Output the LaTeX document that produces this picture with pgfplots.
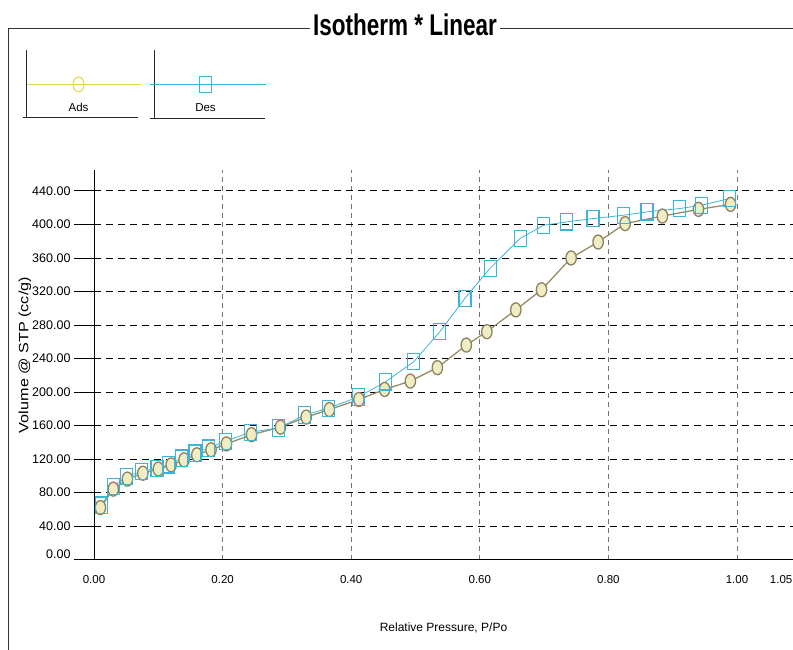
\documentclass[border=0pt]{standalone}
\usepackage{fontspec}
\setmainfont{Liberation Sans}
\usepackage{pgfplots}
\pgfplotsset{compat=1.18}
\definecolor{adsline}{RGB}{150,140,100}
\definecolor{adsdraw}{RGB}{140,130,95}
\definecolor{adsfill}{RGB}{240,236,195}
\definecolor{adsleg}{RGB}{225,215,70}
\definecolor{descol}{RGB}{60,180,215}
\begin{document}
\begin{tikzpicture}
\useasboundingbox (0,0) rectangle (793pt,-650pt);
\draw[line width=0.8pt, black!80] (8pt,-650pt) -- (8pt,-28pt) -- (310pt,-28pt);
\draw[line width=0.8pt, black!80] (500pt,-28pt) -- (793pt,-28pt);
\node[font=\fontsize{30}{34}\selectfont\bfseries, xscale=0.75] at (405pt,-25pt) {Isotherm * Linear};
\begin{axis}[
  at={(94pt,-559.5pt)}, anchor=south west,
  scale only axis, width=699pt, height=389.5pt,
  xmin=0, xmax=1.0871, ymin=0, ymax=465,
  axis x line=bottom, axis y line=left,
  x axis line style={-, black, line width=1.4pt},
  y axis line style={-, black, line width=0.9pt},
  /pgf/number format/assume math mode=true,
  xticklabel style={font=\fontsize{11.5}{13}\selectfont, yshift=8pt},
  yticklabel style={font=\fontsize{12.5}{14}\selectfont},
  tick align=outside, major tick length=20pt,
  xtick style={draw=none},
  ytick style={black, line width=0.9pt},
  xtick={0,0.2,0.4,0.6,0.8,1.0},
  xticklabels={0.00,0.20,0.40,0.60,0.80,1.00},
  extra x ticks={1.05},
  extra x tick labels={1.05},
  extra x tick style={grid=none, xticklabel style={xshift=12pt}},
  ytick={0,40,80,120,160,200,240,280,320,360,400,440},
  yticklabels={\raisebox{11pt}{0.00},40.00,80.00,120.00,160.00,200.00,240.00,280.00,320.00,360.00,400.00,440.00},
  grid=major,
  major x grid style={black!55, dash pattern=on 5pt off 4pt, line width=0.7pt},
  major y grid style={black, dash pattern=on 7pt off 5pt, line width=0.9pt},
  ylabel={Volume @ STP (cc/g)},
  ylabel style={at={(axis description cs:-0.099,0.525)}, anchor=center, font=\fontsize{13.5}{15}\selectfont, xscale=1.2},
  xlabel={Relative Pressure, P/Po},
  xlabel style={at={(axis description cs:0.5,-0.176)}, anchor=center, font=\fontsize{12}{14}\selectfont},
  legend columns=2,
  legend style={at={(-0.103,1.308)}, anchor=north west, draw=none, fill=none,
    inner sep=0pt, outer sep=0pt, nodes={inner sep=0pt, outer sep=0pt},
    /tikz/column sep=0pt, /tikz/every even column/.append style={column sep=7pt}},
]
\addplot[adsline, line width=1.3pt, mark=*, mark size=5.2pt,
  mark options={draw=adsdraw, fill=adsfill, line width=1.3pt, yscale=1.35},
  legend image code/.code={
    \draw[black!85, line width=0.8pt] (0pt,34pt) -- (0pt,-34pt);
    \draw[black!85, line width=1pt] (-4pt,-33pt) -- (111pt,-33pt);
    \draw[adsleg, line width=1pt] (0pt,0pt) -- (114pt,0pt);
    \draw[adsleg, line width=1pt, mark=o, mark size=5.5pt, mark options={yscale=1.35}] plot coordinates {(52pt,0pt)};
    \node[font=\fontsize{11.5}{13}\selectfont, black] at (52pt,-24pt) {Ads};
  }] coordinates {
(0.010,62) (0.030,84) (0.052,96) (0.076,103) (0.100,108) (0.120,113) (0.140,119)
(0.160,125) (0.182,131) (0.206,138) (0.245,149) (0.290,158) (0.330,170) (0.366,179)
(0.412,191) (0.452,203) (0.492,213) (0.534,229) (0.579,256) (0.611,272) (0.656,298)
(0.696,322) (0.742,360) (0.784,379) (0.826,401) (0.884,410) (0.940,418) (0.990,424)
};
\addlegendentry{\mbox{}}
\addplot[descol, line width=0.8pt, mark=square, mark size=6pt,
  mark options={draw=descol, solid, line width=1.1pt, yscale=1.35},
  legend image code/.code={
    \draw[black!85, line width=0.8pt] (0pt,34pt) -- (0pt,-34pt);
    \draw[black!85, line width=1pt] (-5pt,-34pt) -- (110pt,-34pt);
    \draw[descol, line width=1pt] (-5pt,0pt) -- (111pt,0pt);
    \draw[descol, line width=1pt, mark=square, mark size=6pt, mark options={yscale=1.35}] plot coordinates {(51pt,0pt)};
    \node[font=\fontsize{11.5}{13}\selectfont, black] at (51pt,-24pt) {Des};
  }] coordinates {
(0.989,431) (0.945,423) (0.911,419) (0.860,415) (0.823,411) (0.776,407) (0.735,403)
(0.699,399) (0.663,383.5) (0.616,347.7) (0.577,312) (0.538,272) (0.497,236) (0.453,212)
(0.411,194) (0.364,180.5) (0.328,172.5) (0.287,157) (0.243,152) (0.204,141) (0.178,133)
(0.157,127) (0.136,121) (0.116,113) (0.098,109) (0.074,105) (0.051,99) (0.030,87) (0.012,65)
};
\addlegendentry{\mbox{}}
\end{axis}
\end{tikzpicture}
\end{document}
